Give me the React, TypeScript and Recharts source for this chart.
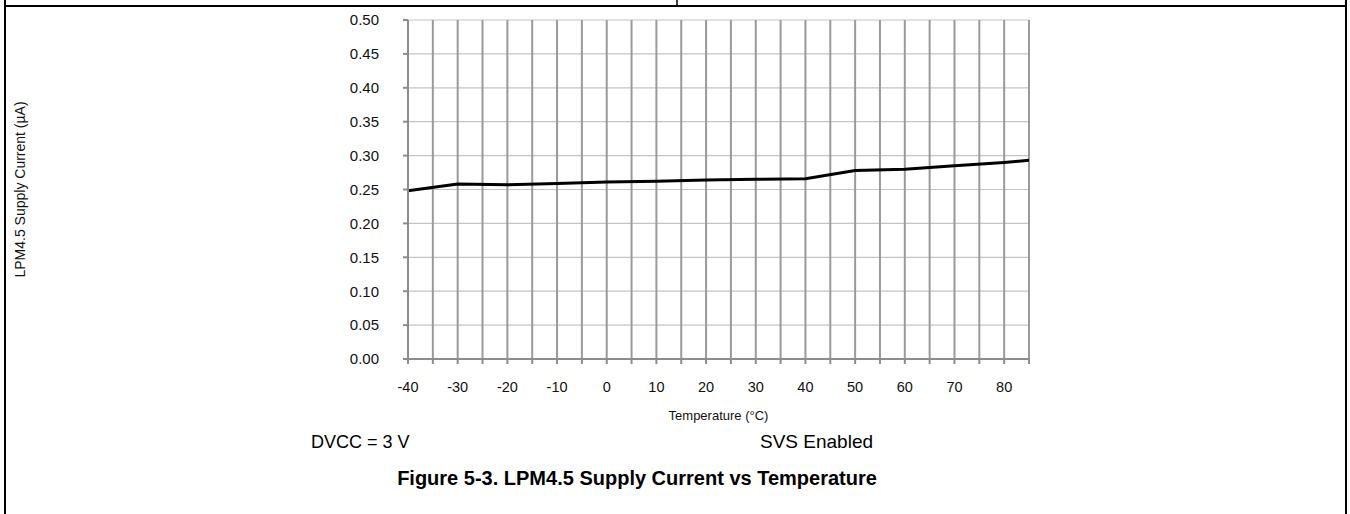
import React from "react";
import {
  LineChart,
  Line,
  XAxis,
  YAxis,
  CartesianGrid,
  Label,
} from "recharts";

// temperature (°C) and LPM4.5 supply current (µA), DVCC = 3 V, SVS enabled
const temperatures = [-40, -30, -20, -10, 0, 10, 20, 30, 40, 50, 60, 70, 80, 85];
const currents = [0.248, 0.258, 0.257, 0.259, 0.261, 0.262, 0.264, 0.265, 0.266, 0.278, 0.28, 0.285, 0.29, 0.293];

const xTicks = [-40, -35, -30, -25, -20, -15, -10, -5, 0, 5, 10, 15, 20, 25, 30, 35, 40, 45, 50, 55, 60, 65, 70, 75, 80, 85];
const yTicks = [0, 0.05, 0.1, 0.15, 0.2, 0.25, 0.3, 0.35, 0.4, 0.45, 0.5];

const data = temperatures.map((t, i) => ({ temp: t, current: currents[i] }));

const FONT = "'Liberation Sans', Arial, sans-serif";

export default function App() {
  return (
    <div style={{ position: "absolute", left: 0, top: 0, width: 1350, height: 514, background: "#fff", fontFamily: FONT }}>
      <LineChart
        width={1350}
        height={514}
        data={data}
        margin={{ top: 20, right: 321, bottom: 125, left: 8 }}
        style={{ position: "absolute", left: 0, top: 0 }}
      >
        <CartesianGrid vertical={false} stroke="#c4c4c4" strokeWidth={1.2} />
        <CartesianGrid horizontal={false} stroke="#9a9a9a" strokeWidth={2} />
        <XAxis
          dataKey="temp"
          type="number"
          domain={[-40, 85]}
          ticks={xTicks}
          interval={0}
          tickFormatter={(v: number) => (v % 10 === 0 && v <= 80 ? String(v) : "")}
          stroke="#8c8c8c"
          strokeWidth={2}
          tickSize={5}
          tickMargin={18}
          height={30}
          tick={{ fill: "#111", fontSize: 14.5, fontFamily: FONT }}
        >
          <Label
            value="Temperature (°C)"
            position="bottom"
            offset={22}
            style={{ fill: "#111", fontSize: 13, fontFamily: FONT }}
          />
        </XAxis>
        <YAxis
          type="number"
          domain={[0, 0.5]}
          ticks={yTicks}
          interval={0}
          tickFormatter={(v: number) => v.toFixed(2)}
          stroke="#8c8c8c"
          strokeWidth={2}
          tickSize={5}
          tickMargin={24}
          width={400}
          tick={{ fill: "#111", fontSize: 15, fontFamily: FONT }}
        >
          <Label
            value="LPM4.5 Supply Current (µA)"
            angle={-90}
            position="insideLeft"
            offset={12}
            style={{ fill: "#111", fontSize: 14, fontFamily: FONT, textAnchor: "middle" }}
          />
        </YAxis>
        <Line
          type="linear"
          dataKey="current"
          stroke="#000"
          strokeWidth={3}
          dot={false}
          isAnimationActive={false}
        />
      </LineChart>
      <svg width={1350} height={514} style={{ position: "absolute", left: 0, top: 0, pointerEvents: "none" }}>
        <line x1={5} y1={6} x2={1346} y2={6} stroke="#000" strokeWidth={2} />
        <line x1={677} y1={0} x2={677} y2={6} stroke="#000" strokeWidth={1.5} />
        <line x1={5} y1={0} x2={5} y2={514} stroke="#000" strokeWidth={2} />
        <line x1={1346} y1={0} x2={1346} y2={514} stroke="#000" strokeWidth={2} />
        <text x={311} y={448} fontSize={18} fontFamily={FONT} fill="#000">DVCC = 3 V</text>
        <text x={760} y={448} fontSize={19} fontFamily={FONT} fill="#000">SVS Enabled</text>
        <text x={637} y={485} fontSize={20} fontWeight="bold" fontFamily={FONT} fill="#000" textAnchor="middle">
          Figure 5-3. LPM4.5 Supply Current vs Temperature
        </text>
      </svg>
    </div>
  );
}
